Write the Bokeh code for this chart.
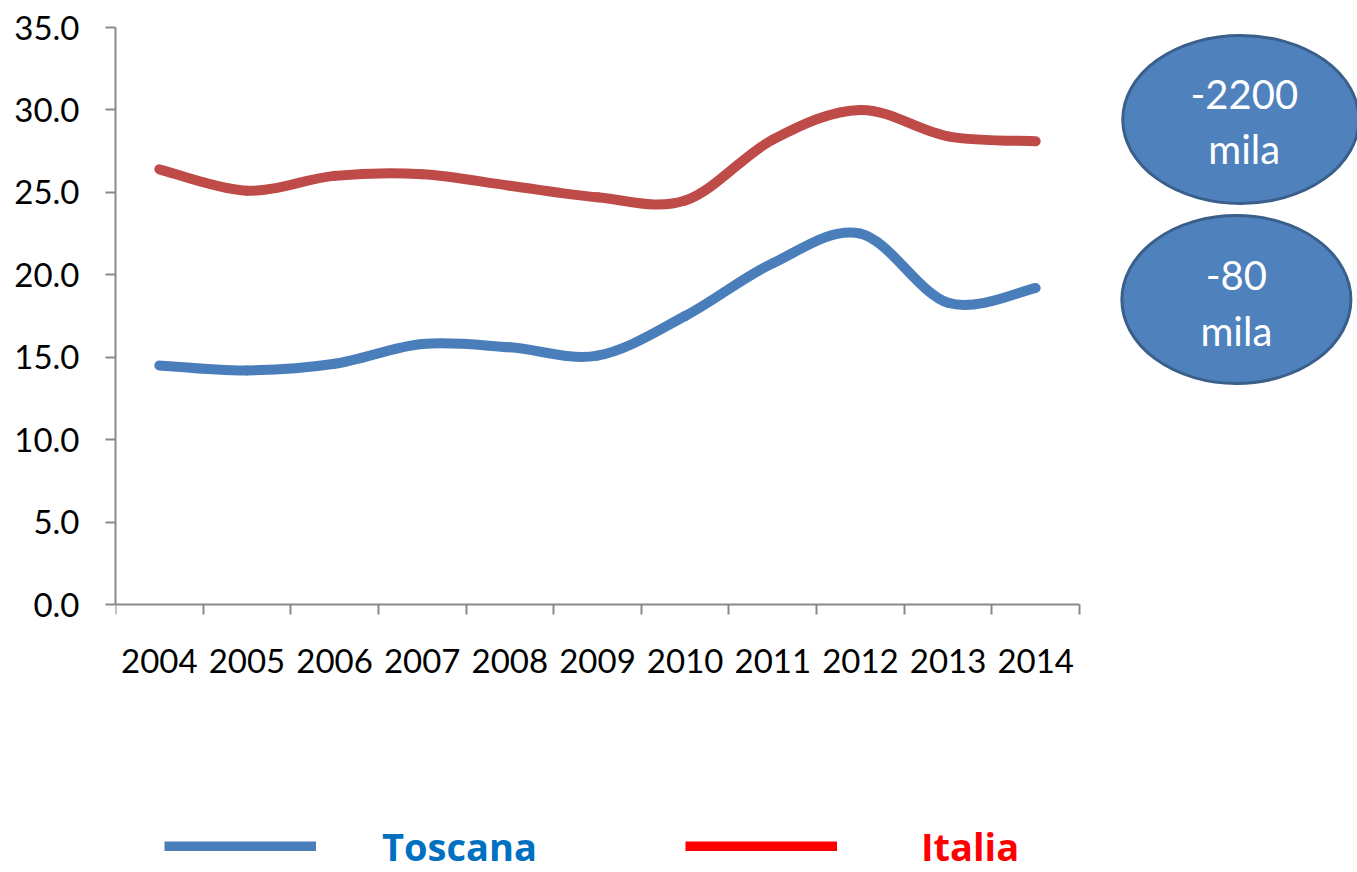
import numpy as np
from bokeh.plotting import figure
from bokeh.models import FixedTicker, PrintfTickFormatter, Range1d, Legend, LegendItem, ColumnDataSource
from bokeh.core.properties import value
from bokeh.embed import file_html
from bokeh.resources import INLINE

# ---- data ----
years = ["2004", "2005", "2006", "2007", "2008", "2009", "2010", "2011", "2012", "2013", "2014"]
toscana = [14.5, 14.2, 14.6, 15.8, 15.6, 15.1, 17.5, 20.7, 22.5, 18.3, 19.2]
italia = [26.4, 25.1, 26.0, 26.1, 25.4, 24.7, 24.5, 28.2, 30.0, 28.4, 28.1]
y_ticks = [0, 5, 10, 15, 20, 25, 30, 35]
bubble_values = ["-2200", "-80"]
bubble_unit = "mila"
series_names = ["Toscana", "Italia"]

LINE_BLUE = "#4A7EBB"
LINE_RED = "#BE4B48"

x_pos = [i + 0.5 for i in range(len(years))]


def smooth_segments(xs, ys):
    """Cubic Bezier control points (Catmull-Rom style, like Excel's smoothed line)."""
    P = np.column_stack([xs, ys]).astype(float)
    n = len(P)
    d = dict(x0=[], y0=[], x1=[], y1=[], cx0=[], cy0=[], cx1=[], cy1=[])
    for i in range(n - 1):
        pm = P[i - 1] if i > 0 else P[i]
        p0 = P[i]
        p1 = P[i + 1]
        p2 = P[i + 2] if i + 2 < n else P[i + 1]
        c0 = p0 + (p1 - pm) / 6.0
        c1 = p1 - (p2 - p0) / 6.0
        d["x0"].append(p0[0]); d["y0"].append(p0[1])
        d["x1"].append(p1[0]); d["y1"].append(p1[1])
        d["cx0"].append(c0[0]); d["cy0"].append(c0[1])
        d["cx1"].append(c1[0]); d["cy1"].append(c1[1])
    return ColumnDataSource(d)


p = figure(width=1357, height=872, output_backend="svg", toolbar_location=None,
           x_range=Range1d(0, 14.172), y_range=Range1d(-16.256, 35),
           min_border_left=115, min_border_top=27, min_border_right=0, min_border_bottom=0)
p.outline_line_color = None
p.xgrid.visible = False
p.ygrid.visible = False
p.background_fill_color = "white"
p.border_fill_color = "white"

AX = "#898989"

# y axis
ya = p.yaxis[0]
ya.ticker = FixedTicker(ticks=y_ticks)
ya.formatter = PrintfTickFormatter(format="%.1f")
ya.bounds = (0, 35)
ya.axis_line_color = AX
ya.axis_line_width = 2
ya.major_tick_line_color = AX
ya.major_tick_line_width = 2
ya.major_tick_out = 10
ya.major_tick_in = 0
ya.minor_tick_out = 0
ya.minor_tick_in = 0
ya.major_label_text_font = "Lato"
ya.major_label_text_font_size = "33px"
ya.major_label_text_color = "black"
ya.major_label_standoff = 26

# x axis
xa = p.xaxis[0]
xa.fixed_location = 0
xa.ticker = FixedTicker(ticks=x_pos, minor_ticks=list(range(len(years) + 1)))
xa.major_label_overrides = {x: y for x, y in zip(x_pos, years)}
xa.bounds = (0, len(years))
xa.axis_line_color = AX
xa.axis_line_width = 2
xa.major_tick_out = 0
xa.major_tick_in = 0
xa.minor_tick_line_color = AX
xa.minor_tick_line_width = 2
xa.minor_tick_out = 10
xa.minor_tick_in = 0
xa.major_label_text_font = "Lato"
xa.major_label_text_font_size = "33px"
xa.major_label_text_color = "black"
xa.major_label_standoff = 34

# smoothed lines
p.bezier(x0="x0", y0="y0", x1="x1", y1="y1", cx0="cx0", cy0="cy0", cx1="cx1", cy1="cy1",
         source=smooth_segments(x_pos, italia), line_color=LINE_RED, line_width=10, line_cap="round")
p.bezier(x0="x0", y0="y0", x1="x1", y1="y1", cx0="cx0", cy0="cy0", cx1="cx1", cy1="cy1",
         source=smooth_segments(x_pos, toscana), line_color=LINE_BLUE, line_width=10, line_cap="round")

# bubbles
bub_x = [12.84, 12.79]
bub_y = [29.42, 18.50]
bub_w = [236, 229]
p.ellipse(x=bub_x, y=bub_y, width=bub_w, height=[168, 168], width_units="screen", height_units="screen",
          fill_color="#4F81BD", line_color="#3A5F8B", line_width=3)
p.text(x=[12.88, 12.79], y=[30.95, 19.98], text=bubble_values, text_align="center",
       text_baseline="middle", text_font=value("Lato"), text_font_size="40px", text_color="white")
p.text(x=[12.88, 12.79], y=[27.62, 16.60], text=[bubble_unit, bubble_unit], text_align="center",
       text_baseline="middle", text_font=value("Lato"), text_font_size="40px", text_color="white")

# legend (two legends, each with its own label colour)
r_t = p.line(x=[np.nan], y=[np.nan], line_color=LINE_BLUE, line_width=10)
r_i = p.line(x=[np.nan], y=[np.nan], line_color="#FF0000", line_width=10)
for name, rend, col, loc, stand in [(series_names[0], r_t, "#0070C0", (49, 0), 66),
                                    (series_names[1], r_i, "#FF0000", (570, 0), 84)]:
    leg = Legend(items=[LegendItem(label=name, renderers=[rend])], location=loc,
                 glyph_width=152, glyph_height=10, label_standoff=stand,
                 label_text_font="Open Sans", label_text_font_size="38px", label_text_font_style="bold",
                 label_text_color=col, border_line_color=None, background_fill_alpha=0,
                 padding=0, margin=0)
    p.add_layout(leg)

open("out.html", "w").write(file_html(p, INLINE))
